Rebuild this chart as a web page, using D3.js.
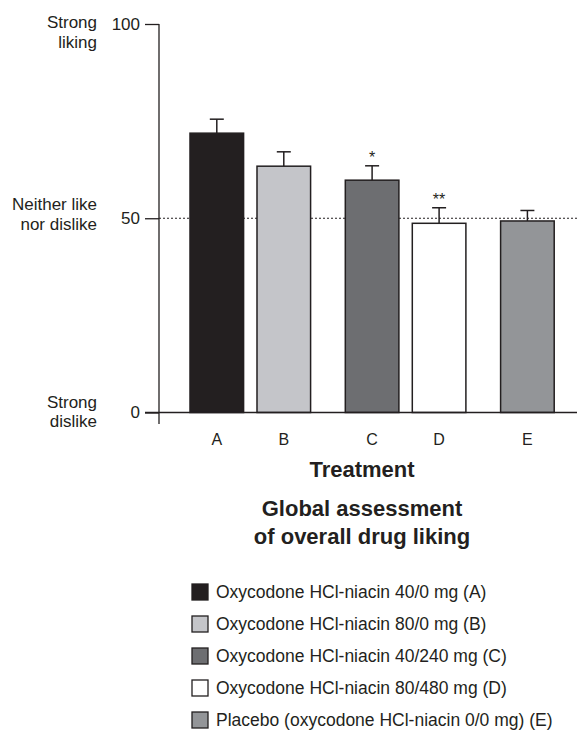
<!doctype html>
<html>
<head>
<script src="https://cdnjs.cloudflare.com/ajax/libs/d3/7.8.5/d3.min.js"></script>
<style>
  body { margin: 0; background: #fff; }
  svg { font-family: "Liberation Sans", Arial, sans-serif; }
  .tick line { stroke: #231f20; stroke-width: 1.3; }
  .tick text { fill: #231f20; font-size: 17px; }
</style>
</head>
<body>
<svg id="chart" width="577" height="731"></svg>
<script>
// treatments, grouped the way the bars sit on the axis
const treatments = ["A", "B", "C", "D", "E"];
const groups = [["A", "B"], ["C", "D"], ["E"]];
const means = [71.9, 63.4, 59.8, 48.7, 49.3];
const errTops = [75.5, 67.1, 63.5, 52.7, 52.0];
const stars = ["", "", "*", "**", ""];
const fills = ["#231f20", "#c4c5c9", "#6d6e71", "#ffffff", "#939598"];
const legendLabels = [
  "Oxycodone HCl-niacin 40/0 mg (A)",
  "Oxycodone HCl-niacin 80/0 mg (B)",
  "Oxycodone HCl-niacin 40/240 mg (C)",
  "Oxycodone HCl-niacin 80/480 mg (D)",
  "Placebo (oxycodone HCl-niacin 0/0 mg) (E)"
];
const yTicks = [0, 50, 100];
const yDescriptors = [["Strong", "dislike"], ["Neither like", "nor dislike"], ["Strong", "liking"]];

const svg = d3.select("#chart");
const ink = "#231f20";

const y = d3.scaleLinear().domain([0, 100]).range([412.5, 24]);
const x0 = d3.scaleBand().domain(d3.range(groups.length)).range([190, 621.2]).paddingInner(0.2235);
const x1 = d3.scaleBand().domain([0, 1]).range([0, x0.bandwidth()]).paddingInner(0.2);

function barX(key) {
  const g = groups.findIndex(a => a.includes(key));
  return x0(g) + x1(groups[g].indexOf(key));
}

const data = treatments.map((t, i) => ({
  t, mean: means[i], err: errTops[i], star: stars[i], fill: fills[i]
}));

// reference line at 50
svg.append("line")
  .attr("x1", 159).attr("x2", 577)
  .attr("y1", y(50)).attr("y2", y(50))
  .attr("stroke", ink).attr("stroke-width", 1.2)
  .attr("stroke-dasharray", "2,2");

// y axis
const yAxis = d3.axisLeft(y).tickValues(yTicks).tickSize(14).tickPadding(5);
const gy = svg.append("g").attr("transform", "translate(159,0)").call(yAxis);
gy.select(".domain").remove();
svg.append("line")
  .attr("x1", 159).attr("x2", 159)
  .attr("y1", y(100)).attr("y2", 424)
  .attr("stroke", ink).attr("stroke-width", 1.3);

// descriptors beside ticks (top one hangs below its tick)
const descShift = [-5, -8, 4];
yTicks.forEach((v, i) => {
  const t = svg.append("text")
    .attr("text-anchor", "end")
    .attr("font-size", 17)
    .attr("fill", ink);
  yDescriptors[i].forEach((line, j) => {
    t.append("tspan").attr("x", 97).attr("y", y(v) + descShift[i] + j * 19.5).text(line);
  });
});

// error bars
const w = x1.bandwidth();
const eb = svg.append("g").attr("stroke", ink).attr("stroke-width", 1.5);
data.forEach(d => {
  const cx = barX(d.t) + w / 2;
  eb.append("line").attr("x1", cx).attr("x2", cx).attr("y1", y(d.mean)).attr("y2", y(d.err));
  eb.append("line").attr("x1", cx - 7).attr("x2", cx + 7).attr("y1", y(d.err)).attr("y2", y(d.err));
});

// bars
svg.append("g").selectAll("rect").data(data).join("rect")
  .attr("x", d => barX(d.t))
  .attr("y", d => y(d.mean))
  .attr("width", w)
  .attr("height", d => y(0) - y(d.mean))
  .attr("fill", d => d.fill)
  .attr("stroke", ink)
  .attr("stroke-width", 1.5);

// significance stars
svg.append("g").selectAll("text").data(data.filter(d => d.star)).join("text")
  .attr("x", d => barX(d.t) + w / 2)
  .attr("y", d => y(d.err) - 3)
  .attr("text-anchor", "middle")
  .attr("font-size", 16)
  .attr("fill", ink)
  .text(d => d.star);

// x axis line
svg.append("line")
  .attr("x1", 145).attr("x2", 577)
  .attr("y1", y(0)).attr("y2", y(0))
  .attr("stroke", ink).attr("stroke-width", 1.3);

// category labels
svg.append("g").selectAll("text").data(data).join("text")
  .attr("x", d => barX(d.t) + w / 2)
  .attr("y", 445)
  .attr("text-anchor", "middle")
  .attr("font-size", 16)
  .attr("fill", ink)
  .text(d => d.t);

// titles
svg.append("text").attr("x", 362).attr("y", 476.5)
  .attr("text-anchor", "middle").attr("font-size", 22).attr("font-weight", "bold")
  .attr("fill", ink).text("Treatment");
const title = svg.append("text").attr("text-anchor", "middle")
  .attr("font-size", 22).attr("font-weight", "bold").attr("fill", ink);
title.append("tspan").attr("x", 362).attr("y", 516).text("Global assessment");
title.append("tspan").attr("x", 362).attr("y", 544).text("of overall drug liking");

// legend
const ly = d3.scalePoint().domain(treatments).range([592, 720]);
const leg = svg.append("g").selectAll("g").data(data).join("g")
  .attr("transform", d => `translate(192,${ly(d.t)})`);
leg.append("rect")
  .attr("x", 0).attr("y", -8).attr("width", 16).attr("height", 16)
  .attr("fill", d => d.fill).attr("stroke", ink).attr("stroke-width", 1.3);
leg.append("text")
  .attr("x", 24).attr("y", 6)
  .attr("font-size", 17.5).attr("fill", ink)
  .text((d, i) => legendLabels[i]);
</script>
</body>
</html>
